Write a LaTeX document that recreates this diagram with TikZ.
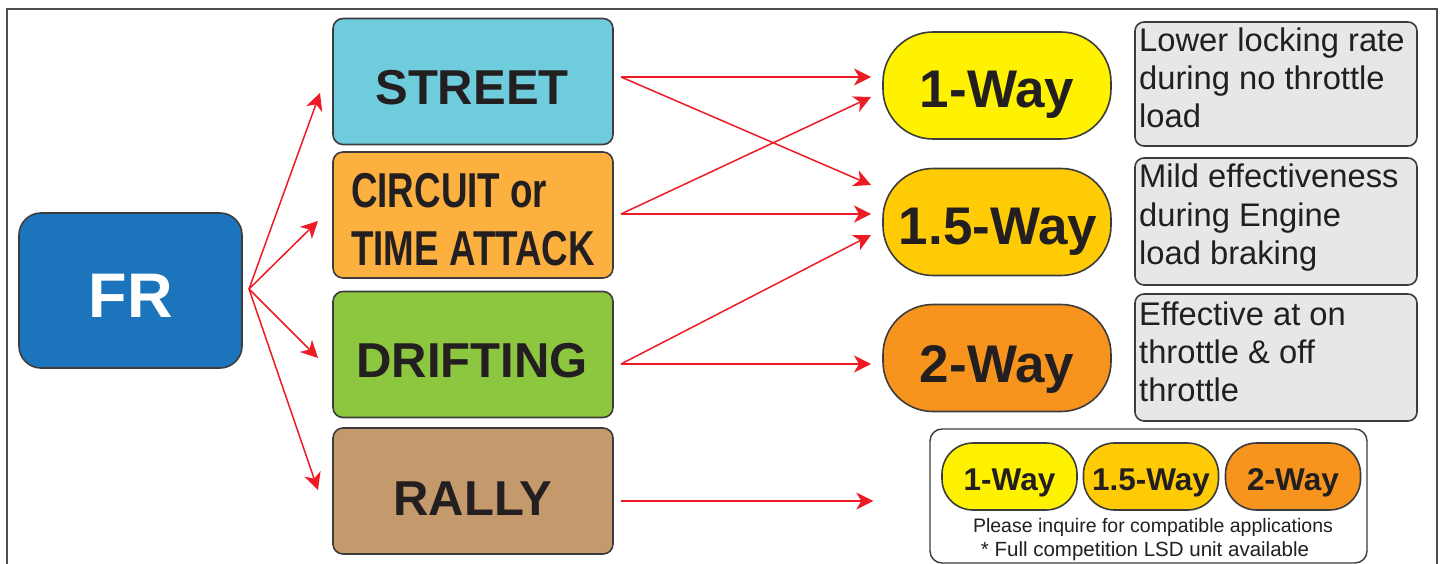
\documentclass[tikz,border=0pt]{standalone}
\usepackage{fontspec}
\setmainfont{Liberation Sans}
\usetikzlibrary{arrows.meta,calc}
\definecolor{linec}{HTML}{3C3C3C}
\definecolor{framec}{HTML}{4D4D4D}
\definecolor{txt}{HTML}{231F20}
\definecolor{arrred}{HTML}{ED1C24}
\definecolor{cfr}{HTML}{1C75BC}
\definecolor{cstreet}{HTML}{6FCCDD}
\definecolor{ccircuit}{HTML}{FBB040}
\definecolor{cdrift}{HTML}{8DC63F}
\definecolor{crally}{HTML}{C49A6C}
\definecolor{cone}{HTML}{FFF200}
\definecolor{conefive}{HTML}{FFCB05}
\definecolor{ctwo}{HTML}{F7941D}
\definecolor{cdesc}{HTML}{E6E7E8}
\begin{document}
\begin{tikzpicture}[x=1pt,y=-1pt,
  basebox/.style={draw=linec,line width=1.6pt,inner sep=0pt,outer sep=0pt},
  catbox/.style={basebox,rounded corners=10pt,minimum width=280pt,minimum height=126pt},
  frbox/.style={basebox,rounded corners=22pt,minimum width=223pt,minimum height=155pt,fill=cfr},
  bigpill/.style={basebox,rounded corners=50pt,minimum width=228pt,minimum height=107pt},
  smallpill/.style={basebox,rounded corners=31pt,minimum width=135pt,minimum height=67pt},
  descbox/.style={basebox,rounded corners=9pt,fill=cdesc,minimum width=282pt},
  legbox/.style={draw=linec,line width=1.4pt,rounded corners=12pt,inner sep=0pt,minimum width=437pt,minimum height=134pt},
  cattext/.style={anchor=base,text=txt,inner sep=0pt,font=\fontsize{49}{49}\selectfont\bfseries},
  frtext/.style={anchor=base,text=white,inner sep=0pt,font=\fontsize{63}{63}\selectfont\bfseries},
  waytext/.style={anchor=base,text=txt,inner sep=0pt,font=\fontsize{53}{53}\selectfont\bfseries},
  smallway/.style={anchor=base,text=txt,inner sep=0pt,font=\fontsize{31.5}{31.5}\selectfont\bfseries},
  desctext/.style={anchor=base west,text=txt,inner sep=0pt,font=\fontsize{32.7}{32.7}\selectfont},
  legtext/.style={anchor=base,text=txt,inner sep=0pt,font=\fontsize{19.5}{19.5}\selectfont},
  arr/.style={draw=arrred,line width=1.5pt,-{Stealth[length=17pt,width=17pt,inset=5pt]}}
]
\useasboundingbox (0,0) rectangle (1444,564);
\fill[white] (0,0) rectangle (1444,564);
% outer frame
\draw[draw=framec,line width=2pt] (7,580) -- (7,9) -- (1437,9) -- (1437,580);

% FR
\node[frbox] (fr) at (130.5,290.5) {};
\node[frtext] (frt) at (130.5,318) {FR};

% categories
\node[catbox,fill=cstreet] (street) at (473,81.5) {};
\node[catbox,fill=ccircuit] (circuit) at (473,215) {};
\node[catbox,fill=cdrift] (drift) at (473,354.5) {};
\node[catbox,fill=crally] (rally) at (473,491) {};
\node[cattext] (streett) at (472,105) {STREET};
\node[cattext,anchor=base west] (circuitt1) at (351,208) {\scalebox{0.75}[1]{CIRCUIT or}};
\node[cattext,anchor=base west] (circuitt2) at (351,266) {\scalebox{0.75}[1]{TIME ATTACK}};
\node[cattext] (driftt) at (472,377) {DRIFTING};
\node[cattext] (rallyt) at (473,515) {RALLY};

% way pills
\node[bigpill,fill=cone] (one) at (997,85.5) {};
\node[bigpill,fill=conefive] (onefive) at (997,222) {};
\node[bigpill,fill=ctwo] (two) at (997,358) {};
\node[waytext] (onet) at (997,108) {1-Way};
\node[waytext] (onefivet) at (998,245) {1.5-Way};
\node[waytext] (twot) at (997,382) {2-Way};

% descriptions
\node[descbox,minimum height=124pt] (d1) at (1276,84) {};
\node[descbox,minimum height=127pt] (d2) at (1276,221.5) {};
\node[descbox,minimum height=127pt] (d3) at (1276,357.5) {};
\node[desctext] (d1a) at (1139,52) {Lower locking rate};
\node[desctext] (d1b) at (1139,90) {during no throttle};
\node[desctext] (d1c) at (1139,128) {load};
\node[desctext] (d2a) at (1139,188) {Mild effectiveness};
\node[desctext] (d2b) at (1139,227) {during Engine};
\node[desctext] (d2c) at (1139,265) {load braking};
\node[desctext] (d3a) at (1139,325) {Effective at on};
\node[desctext] (d3b) at (1139,363) {throttle \& off};
\node[desctext] (d3c) at (1139,401) {throttle};

% legend
\node[legbox] (leg) at (1148.5,496) {};
\node[smallpill,fill=cone] (sp1) at (1009.5,476.5) {};
\node[smallpill,fill=conefive] (sp2) at (1151,476.5) {};
\node[smallpill,fill=ctwo] (sp3) at (1293,476.5) {};
\node[smallway] (sp1t) at (1009.5,490) {1-Way};
\node[smallway] (sp2t) at (1151,490) {1.5-Way};
\node[smallway] (sp3t) at (1293,490) {2-Way};
\node[legtext] (l1) at (1153,532) {Please inquire for compatible applications};
\node[legtext,font=\fontsize{20.5}{20.5}\selectfont] (l2) at (1145,556) {* Full competition LSD unit available};

% FR arrows
\coordinate (hub) at ($(fr.east)+(7,-1.5)$);
\draw[arr] (hub) -- ($(street.west)+(-13,11.5)$);
\draw[arr] (hub) -- ($(circuit.west)+(-15,6)$);
\draw[arr] (hub) -- ($(drift.west)+(-15,3.5)$);
\draw[arr] (hub) -- ($(rally.west)+(-15,-1)$);

% category to way arrows
\draw[arr] ($(street.east)+(8,-4.5)$) -- ($(one.west)+(-12,-8.5)$);
\draw[arr] ($(street.east)+(8,-4.5)$) -- ($(onefive.west)+(-12,-37)$);
\draw[arr] ($(circuit.east)+(8,-1)$) -- ($(one.west)+(-12,11.5)$);
\draw[arr] ($(circuit.east)+(8,-1)$) -- ($(onefive.west)+(-12,-8)$);
\draw[arr] ($(drift.east)+(8,9.5)$) -- ($(onefive.west)+(-12,13)$);
\draw[arr] ($(drift.east)+(8,9.5)$) -- ($(two.west)+(-12,6)$);
\draw[arr] ($(rally.east)+(8,10)$) -- ($(leg.west)+(-56,5)$);
\end{tikzpicture}
\end{document}
